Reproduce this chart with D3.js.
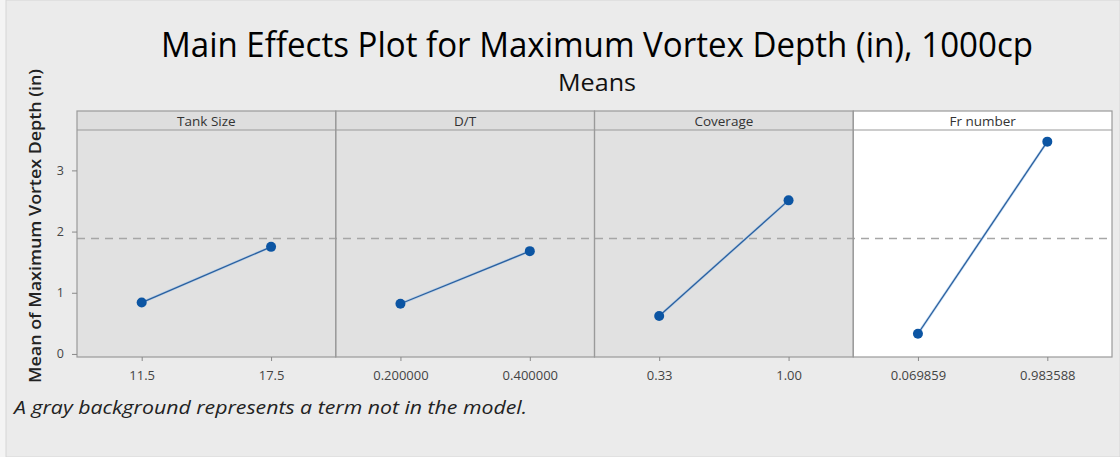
<!DOCTYPE html>
<html>
<head>
<meta charset="utf-8">
<script src="https://cdn.jsdelivr.net/npm/d3@7"></script>
<style>
  html, body { margin: 0; padding: 0; background: #ebebeb; }
  svg { display: block; font-family: "Open Sans", "Noto Sans", sans-serif; }
</style>
</head>
<body>
<svg id="chart" width="1120" height="457"></svg>
<script>
// Factors and their two levels
const factors = ["Tank Size", "D/T", "Coverage", "Fr number"];
const levelLabels = [
  ["11.5", "17.5"],
  ["0.200000", "0.400000"],
  ["0.33", "1.00"],
  ["0.069859", "0.983588"]
];
// Mean response at each level
const levelMeans = [
  [0.84, 1.75],
  [0.82, 1.68],
  [0.62, 2.51],
  [0.33, 3.47]
];
// Whether each term is in the model (gray panel = not in the model)
const inModel = [false, false, false, true];
const grandMean = 1.885;
const yTicks = [0, 1, 2, 3];

const W = 1120, H = 457;
const left = 77, right = 1112, stripTop = 111, stripH = 19, bottom = 357;
const plotTop = stripTop + stripH;

const svg = d3.select("#chart");

// page background with a faint frame
svg.append("rect").attr("x", 0).attr("y", 0).attr("width", W).attr("height", H).attr("fill", "#f4f4f4");
svg.append("rect").attr("x", 6).attr("y", 0).attr("width", W - 6).attr("height", H)
  .attr("fill", "#ebebeb").attr("stroke", "#d6d6d6").attr("stroke-width", 1);

const panelX = d3.scaleBand().domain(factors).range([left, right]).paddingInner(0).paddingOuter(0);
const y = d3.scaleLinear().domain([-0.05, 3.66]).range([bottom, plotTop]);

// condensed heading style: fixed run length for the text
function fit(sel, len) {
  return sel.attr("textLength", len).attr("lengthAdjust", "spacingAndGlyphs");
}

// titles
fit(svg.append("text").attr("x", 597).attr("y", 57).attr("text-anchor", "middle")
  .attr("font-size", 34).attr("fill", "#000")
  .text("Main Effects Plot for Maximum Vortex Depth (in), 1000cp"), 872);
fit(svg.append("text").attr("x", 597).attr("y", 91).attr("text-anchor", "middle")
  .attr("font-size", 23).attr("fill", "#111").text("Means"), 78);

// y-axis label
fit(svg.append("text").attr("transform", "translate(41,226) rotate(-90)").attr("text-anchor", "middle")
  .attr("font-size", 16.5).attr("font-weight", 600).attr("fill", "#222")
  .text("Mean of Maximum Vortex Depth (in)"), 314);

// footnote
fit(svg.append("text").attr("x", 14).attr("y", 414).attr("font-size", 18).attr("font-style", "italic")
  .attr("fill", "#222")
  .text("A gray background represents a term not in the model."), 513);

// panels
factors.forEach((f, i) => {
  const x0 = panelX(f), w = panelX.bandwidth();
  const g = svg.append("g");
  g.append("rect").attr("x", x0).attr("y", plotTop).attr("width", w).attr("height", bottom - plotTop)
    .attr("fill", inModel[i] ? "#ffffff" : "#e1e1e1");
  g.append("rect").attr("x", x0).attr("y", stripTop).attr("width", w).attr("height", stripH)
    .attr("fill", inModel[i] ? "#ffffff" : "#dedede");
  g.append("text").attr("x", x0 + w / 2).attr("y", stripTop + 14.5).attr("text-anchor", "middle")
    .attr("font-size", 13.5).attr("fill", "#333").text(f);
});

// reference line at the grand mean
svg.append("line").attr("x1", left).attr("x2", right).attr("y1", y(grandMean)).attr("y2", y(grandMean))
  .attr("stroke", "#a6a6a6").attr("stroke-width", 1.5).attr("stroke-dasharray", "8,6");

// panel frames
factors.forEach((f, i) => {
  const x0 = panelX(f), w = panelX.bandwidth();
  svg.append("rect").attr("x", x0).attr("y", stripTop).attr("width", w).attr("height", bottom - stripTop)
    .attr("fill", "none").attr("stroke", "#9a9a9a").attr("stroke-width", 1.2);
  svg.append("line").attr("x1", x0).attr("x2", x0 + w).attr("y1", plotTop).attr("y2", plotTop)
    .attr("stroke", "#9a9a9a").attr("stroke-width", 1.2);
});

// means lines, points and x axes
factors.forEach((f, i) => {
  const x0 = panelX(f), w = panelX.bandwidth();
  const x = d3.scalePoint().domain(levelLabels[i]).range([x0, x0 + w]).padding(0.5);
  const pts = levelLabels[i].map((l, j) => [x(l), y(levelMeans[i][j])]);
  svg.append("path").attr("d", d3.line()(pts)).attr("fill", "none")
    .attr("stroke", "#9cc3ea").attr("stroke-width", 2.6).attr("opacity", 0.6);
  svg.append("path").attr("d", d3.line()(pts)).attr("fill", "none")
    .attr("stroke", "#2a5f9e").attr("stroke-width", 1.3);
  svg.selectAll(null).data(pts).enter().append("circle")
    .attr("cx", d => d[0]).attr("cy", d => d[1]).attr("r", 5).attr("fill", "#0c55a3");

  const ax = svg.append("g").attr("transform", `translate(0,${bottom})`)
    .call(d3.axisBottom(x).tickSize(4).tickPadding(10));
  ax.select(".domain").remove();
  ax.selectAll("line").attr("stroke", "#888");
  ax.selectAll("text").attr("font-size", 13).attr("fill", "#444").attr("font-family", "\"Open Sans\", sans-serif");
});

// y axis
const yAx = svg.append("g").attr("transform", `translate(${left},0)`)
  .call(d3.axisLeft(y).tickValues(yTicks).tickFormat(d3.format("d")).tickSize(5).tickPadding(8));
yAx.select(".domain").remove();
yAx.selectAll("line").attr("stroke", "#888");
yAx.selectAll("text").attr("font-size", 12.5).attr("fill", "#444").attr("font-family", "\"Open Sans\", sans-serif");
</script>
</body>
</html>
